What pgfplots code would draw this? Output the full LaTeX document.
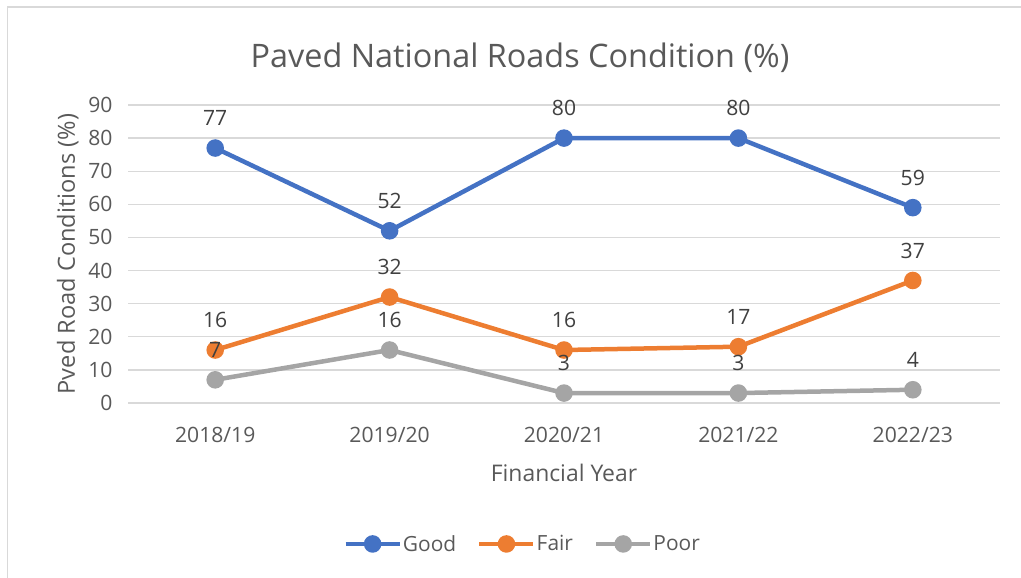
\documentclass[border=0pt]{standalone}
\usepackage{pgfplots}
\pgfplotsset{compat=1.18}
\usepackage{fontspec}
\setmainfont{Open Sans}
\definecolor{cgood}{HTML}{4472C4}
\definecolor{cfair}{HTML}{ED7D31}
\definecolor{cpoor}{HTML}{A5A5A5}
\definecolor{ctxt}{HTML}{595959}
\definecolor{clab}{HTML}{404040}
\definecolor{cgrid}{HTML}{D9D9D9}
\begin{document}
\begin{tikzpicture}[x=1bp,y=1bp]
\path[use as bounding box] (0,0) rectangle (1021,578);
\draw[cgrid, line width=1.3bp] (7.5,-20) -- (7.5,571) -- (1040,571);
\begin{axis}[
  at={(128bp,175bp)}, anchor=south west,
  scale only axis, width=872bp, height=298bp,
  xmin=-0.5, xmax=4.5, ymin=0, ymax=90,
  xtick={0,1,2,3,4},
  xticklabels={2018/19,2019/20,2020/21,2021/22,2022/23},
  ytick={0,10,...,90},
  ymajorgrids, grid style={cgrid, line width=1.3bp},
  axis x line*=bottom, axis y line*=left,
  x axis line style={cgrid, line width=1.3bp, -},
  y axis line style={draw=none},
  major tick length=0pt,
  /pgf/number format/assume math mode=true,
  ticklabel style={font=\fontsize{21.2}{25}\selectfont, text=ctxt},
  yticklabel style={xshift=-12bp},
  xticklabel style={yshift=-21bp},
  xlabel={Financial Year},
  ylabel={Pved Road Conditions (\%)},
  xlabel style={font=\fontsize{23}{27}\selectfont, text=ctxt, yshift=-14bp},
  ylabel style={font=\fontsize{23.7}{28}\selectfont, text=ctxt, yshift=3bp},
  title={Paved National Roads Condition (\%)},
  title style={font=\fontsize{32.5}{38}\selectfont, text=ctxt, yshift=23bp, xshift=-44bp},
  every axis plot/.append style={line width=4.5bp, mark=*, mark size=6.5bp},
  nodes near coords,
  every node near coord/.append style={font=\fontsize{21.2}{25}\selectfont, text=clab, anchor=south, inner sep=0pt, yshift=20bp},
  legend columns=3,
  legend style={at={(0.452,-0.473)}, anchor=center, draw=none, fill=none,
    font=\fontsize{21}{25}\selectfont, text=ctxt,
    /tikz/every even column/.append style={column sep=20bp},
    nodes={inner sep=1bp}},
  legend image code/.code={\draw[mark repeat=2,mark phase=2] plot coordinates {(0bp,0bp) (27bp,0bp) (54bp,0bp)};},
  clip=false,
]
\addplot[cgood, mark options={fill=cgood, draw=cgood}] coordinates {(0,77) (1,52) (2,80) (3,80) (4,59)};
\addlegendentry{Good}
\addplot[cfair, mark options={fill=cfair, draw=cfair}] coordinates {(0,16) (1,32) (2,16) (3,17) (4,37)};
\addlegendentry{Fair}
\addplot[cpoor, mark options={fill=cpoor, draw=cpoor}] coordinates {(0,7) (1,16) (2,3) (3,3) (4,4)};
\addlegendentry{Poor}
\end{axis}
\end{tikzpicture}
\end{document}
